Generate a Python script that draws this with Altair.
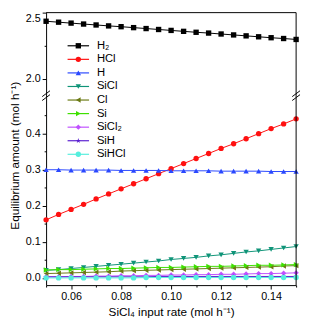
import altair as alt
import pandas as pd

# ---------------- data ----------------
x_rate = [0.050, 0.055, 0.060, 0.065, 0.070, 0.075, 0.080, 0.085, 0.090, 0.095, 0.100,
          0.105, 0.110, 0.115, 0.120, 0.125, 0.130, 0.135, 0.140, 0.145, 0.150]

series_names = ["H₂", "HCl", "H", "SiCl", "Cl", "Si", "SiCl₂", "SiH", "SiHCl"]
series_colors = ["#000000", "#ff1010", "#2a48ff", "#0f9478", "#6b7a14", "#3ee000",
                 "#c050ff", "#5a1fd0", "#55eedd"]
series_shapes = ["square", "circle", "triangle-up", "triangle-down", "triangle-left",
                 "triangle-right", "diamond",
                 "M0,-1L0.2245,-0.309L0.951,-0.309L0.363,0.118L0.588,0.809L0,0.382L-0.588,0.809L-0.363,0.118L-0.951,-0.309L-0.2245,-0.309Z",
                 "circle"]

h2 = [2.435, 2.428, 2.421, 2.414, 2.407, 2.400, 2.394, 2.387, 2.380, 2.373, 2.366,
      2.359, 2.352, 2.346, 2.339, 2.332, 2.325, 2.318, 2.311, 2.305, 2.298]
hcl = [0.161, 0.176, 0.190, 0.204, 0.219, 0.233, 0.247, 0.261, 0.275, 0.289, 0.303,
       0.317, 0.331, 0.345, 0.359, 0.372, 0.386, 0.400, 0.414, 0.427, 0.441]
h = [0.300, 0.300, 0.299, 0.299, 0.299, 0.299, 0.298, 0.298, 0.298, 0.298, 0.297,
     0.297, 0.297, 0.297, 0.296, 0.296, 0.296, 0.296, 0.295, 0.295, 0.295]
sicl = [0.021, 0.023, 0.026, 0.029, 0.032, 0.035, 0.038, 0.041, 0.044, 0.047, 0.051,
        0.054, 0.057, 0.061, 0.064, 0.068, 0.072, 0.075, 0.079, 0.083, 0.087]
cl = [0.012, 0.013, 0.014, 0.015, 0.016, 0.017, 0.019, 0.020, 0.021, 0.022, 0.023,
      0.024, 0.025, 0.026, 0.027, 0.028, 0.029, 0.030, 0.031, 0.033, 0.034]
si = [0.022, 0.023, 0.023, 0.024, 0.025, 0.026, 0.026, 0.027, 0.028, 0.029, 0.029,
      0.030, 0.031, 0.032, 0.032, 0.033, 0.034, 0.035, 0.035, 0.036, 0.037]
sicl2 = [0.003, 0.003, 0.004, 0.004, 0.005, 0.005, 0.006, 0.006, 0.007, 0.007, 0.008,
         0.008, 0.009, 0.009, 0.010, 0.010, 0.011, 0.012, 0.012, 0.013, 0.014]
sih = [0.003, 0.003, 0.003, 0.003, 0.003, 0.003, 0.003, 0.003, 0.003, 0.004, 0.004,
       0.004, 0.004, 0.004, 0.004, 0.004, 0.004, 0.004, 0.004, 0.004, 0.004]
sihcl = [0.000, 0.000, 0.000, 0.000, 0.000, 0.000, 0.000, 0.000, 0.001, 0.001, 0.001,
         0.001, 0.001, 0.001, 0.001, 0.001, 0.001, 0.001, 0.001, 0.001, 0.001]

all_values = [h2, hcl, h, sicl, cl, si, sicl2, sih, sihcl]

top_ticks = [2.0, 2.25, 2.5]
bottom_ticks = [0.0, 0.05, 0.1, 0.15, 0.2, 0.25, 0.3, 0.35, 0.4, 0.45]
x_ticks = [0.05, 0.06, 0.07, 0.08, 0.09, 0.10, 0.11, 0.12, 0.13, 0.14, 0.15]

rows = []
for name, vals in zip(series_names, all_values):
    for xv, yv in zip(x_rate, vals):
        rows.append({"rate": xv, "amount": yv, "series": name})
df = pd.DataFrame(rows)
df_top = df[df["series"] == "H₂"]
df_bot = df[df["series"] != "H₂"]
leg_df = pd.DataFrame({"series": series_names})
edge_df = pd.DataFrame({"rate": [0.15]})

# ---------------- layout ----------------
W = 256
TOP_H = 87
BOT_H = 192
FONT = "Liberation Sans"

color_scale = alt.Scale(domain=series_names, range=series_colors)
shape_scale = alt.Scale(domain=series_names, range=series_shapes)
x_scale = alt.Scale(domain=[0.05, 0.15], nice=False, zero=False)

major_y = "abs(datum.value*10 - round(datum.value*10)) < 0.001"
major_x = "abs(datum.value*50 - round(datum.value*50)) < 0.001"


def y_axis(values, title=None, title_y=None, flush=False):
    kw = dict(
        values=values,
        labelExpr=f"{major_y} ? format(datum.value, '.1f') : ''",
        tickSize={"condition": {"test": major_y, "value": 4}, "value": 2},
        grid=False, domainColor="black", tickColor="black",
        labelFontSize=11, labelColor="black", labelPadding=2, labelFlush=flush,
        titleFontSize=12, titleFontWeight="normal", titleColor="black",
    )
    if title is not None:
        kw["title"] = title
        kw["titleY"] = title_y
    else:
        kw["title"] = None
    return alt.Axis(**kw)


def panel(data, ydom, height, yaxis, xaxis):
    yscale = alt.Scale(domain=ydom, nice=False, zero=False)
    col = alt.Color("series:N", scale=color_scale, legend=None)
    shp = alt.Shape("series:N", scale=shape_scale, legend=None)
    xenc = alt.X("rate:Q", scale=x_scale, axis=xaxis)
    yenc = alt.Y("amount:Q", scale=yscale, axis=yaxis)
    base = alt.Chart(data)
    lines = base.mark_line(strokeWidth=1).encode(x=xenc, y=yenc, color=col)
    points = base.mark_point(filled=True, size=30, opacity=1).encode(
        x=xenc, y=yenc, color=col, shape=shp)
    border = alt.Chart(edge_df).mark_rule(color="black", strokeWidth=1).encode(
        x=xenc, y=alt.value(0), y2=alt.value(height))
    return lines, points, border


bot_xaxis = alt.Axis(orient="bottom", values=x_ticks, grid=False,
                     labelExpr=f"{major_x} ? format(datum.value, '.2f') : ''",
                     tickSize={"condition": {"test": major_x, "value": 4}, "value": 2},
                     domainColor="black", tickColor="black", labelColor="black",
                     labelFontSize=11, labelPadding=2,
                     title="SiCl₄ input rate (mol h⁻¹)", titleFontSize=12,
                     titleFontWeight="normal", titleColor="black", titlePadding=5)

t_lines, t_points, t_border = panel(
    df_top, [1.86, 2.5], TOP_H, y_axis(top_ticks, flush=True), None)

# frame top edge and axis-break slashes (decoration)
deco = alt.Chart(edge_df).mark_rule(color="black", strokeWidth=1)
top_edge = deco.encode(x=alt.value(0), x2=alt.value(W), y=alt.value(0))
slashes = [
    deco.encode(x=alt.value(-4), x2=alt.value(4), y=alt.value(TOP_H - 1), y2=alt.value(TOP_H - 7)),
    deco.encode(x=alt.value(-4), x2=alt.value(4), y=alt.value(TOP_H + 3), y2=alt.value(TOP_H - 3)),
    deco.encode(x=alt.value(W - 4), x2=alt.value(W + 4), y=alt.value(TOP_H - 1), y2=alt.value(TOP_H - 7)),
    deco.encode(x=alt.value(W - 4), x2=alt.value(W + 4), y=alt.value(TOP_H + 3), y2=alt.value(TOP_H - 3)),
]

# legend drawn from the series list through its own point scale
leg_y = alt.Y("series:N", scale=alt.Scale(type="point", domain=series_names, range=[27, 152]),
              axis=None)
leg_col = alt.Color("series:N", scale=color_scale, legend=None)
leg_shp = alt.Shape("series:N", scale=shape_scale, legend=None)
leg_base = alt.Chart(leg_df)
leg_lines = leg_base.mark_rule(strokeWidth=1.2).encode(
    y=leg_y, x=alt.value(22), x2=alt.value(44), color=leg_col)
leg_pts = leg_base.mark_point(filled=True, size=30, opacity=1).encode(
    y=leg_y, x=alt.value(33), color=leg_col, shape=leg_shp)
leg_txt = leg_base.mark_text(align="left", baseline="middle", fontSize=11.5, font=FONT,
                             color="black").encode(y=leg_y, x=alt.value(52), text="series:N")
legend = alt.layer(leg_lines, leg_pts, leg_txt)

top_plot = alt.layer(t_lines, t_points, t_border, top_edge, *slashes)
top = alt.layer(top_plot, legend).resolve_scale(y="independent").properties(
    width=W, height=TOP_H)

b_lines, b_points, b_border = panel(
    df_bot, [-0.02, 0.5], BOT_H,
    y_axis(bottom_ticks, title="Equilibrium amount (mol h⁻¹)", title_y=146 - TOP_H),
    bot_xaxis)
bottom = alt.layer(b_lines, b_points, b_border).properties(width=W, height=BOT_H)

chart = alt.vconcat(top, bottom, spacing=0, bounds="flush").properties(
    padding={"left": 0, "top": 0, "right": 0, "bottom": 0}
).configure(font=FONT).configure_view(stroke=None).configure_axis(grid=False)

chart.save("out.html", embed_options={"renderer": "svg", "actions": False})
